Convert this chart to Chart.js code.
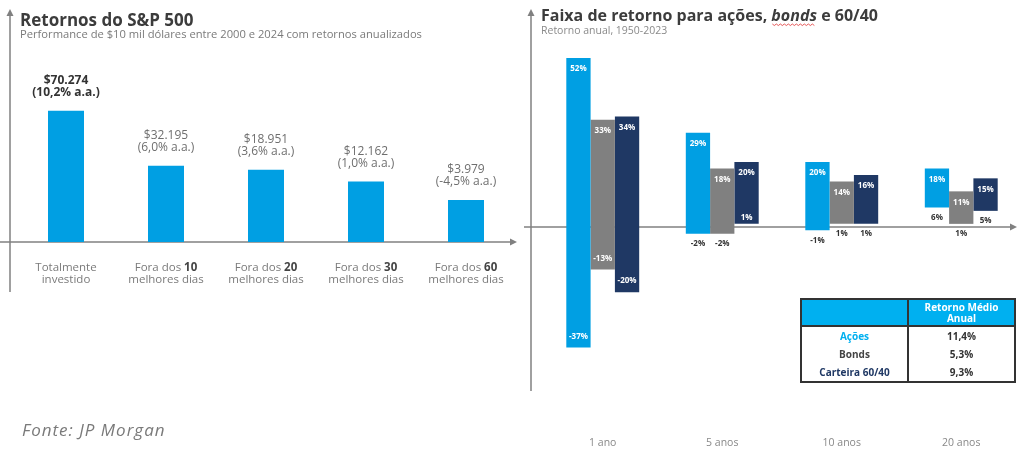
<!DOCTYPE html>
<html>
<head>
<meta charset="utf-8">
<script src="https://cdn.jsdelivr.net/npm/chart.js"></script>
<style>
  body { margin: 0; background: #fff; width: 1023px; height: 454px; overflow: hidden; position: relative; }
  canvas { position: absolute; top: 0; }
  #left { left: 0; }
  #right { left: 520px; }
  #tbl { position: absolute; left: 800px; top: 298px; width: 216px; border-collapse: collapse;
         font-family: "Open Sans", sans-serif; font-weight: 700; font-size: 10px; border: 2px solid #333; }
  #tbl td { width: 50%; text-align: center; padding: 0; line-height: 11px; }
  #tbl tr.head td { background: #00b0f0; color: #fff; height: 25px; border-bottom: 2px solid #333; }
  #tbl tr.body td { height: 18px; }
  #tbl td:first-child { border-right: 2px solid #333; }
</style>
</head>
<body>
<canvas id="left" width="520" height="454"></canvas>
<canvas id="right" width="503" height="454"></canvas>
<table id="tbl"></table>
<script>
const FONT = '"Open Sans", sans-serif'

// left chart: S&P 500 returns
const leftCategories = [['Totalmente', 'investido'], ['Fora dos 10', 'melhores dias'], ['Fora dos 20', 'melhores dias'], ['Fora dos 30', 'melhores dias'], ['Fora dos 60', 'melhores dias']]
const leftBarHeights = [100, 58, 55, 46, 32]
const leftAmounts = ['$70.274', '$32.195', '$18.951', '$12.162', '$3.979']
const leftRates = ['(10,2% a.a.)', '(6,0% a.a.)', '(3,6% a.a.)', '(1,0% a.a.)', '(-4,5% a.a.)']

// right chart: return ranges
const periods = ['1 ano', '5 anos', '10 anos', '20 anos']
const acoesMax = [52, 29, 20, 18]
const acoesMin = [-37, -2, -1, 6]
const bondsMax = [33, 18, 14, 11]
const bondsMin = [-13, -2, 1, 1]
const carteiraMax = [34, 20, 16, 15]
const carteiraMin = [-20, 1, 1, 5]

// table
const tableHeader = ['Retorno Médio', 'Anual']
const tableRows = ['Ações', 'Bonds', 'Carteira 60/40']
const tableValues = ['11,4%', '5,3%', '9,3%']

const BLUE = '#009fe3'
const GRAY = '#808080'
const NAVY = '#1f3864'
const AXIS = '#808080'

function arrowLine(ctx, x1, y1, x2, y2) {
  ctx.save()
  ctx.strokeStyle = AXIS
  ctx.fillStyle = AXIS
  ctx.lineWidth = 1.5
  ctx.beginPath()
  ctx.moveTo(x1, y1)
  ctx.lineTo(x2, y2)
  ctx.stroke()
  const a = Math.atan2(y2 - y1, x2 - x1)
  ctx.beginPath()
  ctx.moveTo(x2 + Math.cos(a) * 3, y2 + Math.sin(a) * 3)
  ctx.lineTo(x2 - Math.cos(a) * 4 - Math.sin(a) * 3.5, y2 - Math.sin(a) * 4 + Math.cos(a) * 3.5)
  ctx.lineTo(x2 - Math.cos(a) * 4 + Math.sin(a) * 3.5, y2 - Math.sin(a) * 4 - Math.cos(a) * 3.5)
  ctx.closePath()
  ctx.fill()
  ctx.restore()
}

const leftDecor = {
  id: 'leftDecor',
  beforeDatasetsDraw(chart) {
    const { ctx, chartArea, scales } = chart
    const base = scales.y.getPixelForValue(0)
    arrowLine(ctx, chartArea.left - 6, base + 50, chartArea.left - 6, 12)
    arrowLine(ctx, 0, base, chartArea.right - 2, base)
  },
  afterDatasetsDraw(chart) {
    const { ctx, scales } = chart
    const base = scales.y.getPixelForValue(0)
    ctx.save()
    ctx.textAlign = 'left'
    ctx.textBaseline = 'alphabetic'
    ctx.fillStyle = '#3c3c3c'
    ctx.font = `bold 17px ${FONT}`
    ctx.fillText('Retornos do S&P 500', 20, 26)
    ctx.fillStyle = '#7a7a7a'
    ctx.font = `11.2px ${FONT}`
    ctx.fillText('Performance de $10 mil dólares entre 2000 e 2024 com retornos anualizados', 20, 38)
    ctx.font = `italic 17px ${FONT}`
    ctx.letterSpacing = '1px'
    ctx.fillText('Fonte: JP Morgan', 22, 436)
    ctx.letterSpacing = '0px'

    ctx.textAlign = 'center'
    leftBarHeights.forEach((v, i) => {
      const x = scales.x.getPixelForValue(i)
      const top = scales.y.getPixelForValue(v)
      ctx.fillStyle = i === 0 ? '#333' : '#6e6e6e'
      ctx.font = `${i === 0 ? 'bold ' : ''}12px ${FONT}`
      ctx.fillText(leftAmounts[i], x, top - 27)
      ctx.fillText(leftRates[i], x, top - 15)

      leftCategories[i].forEach((line, k) => {
        const parts = line.split(/(\d+)/).filter(s => s)
        const fonts = parts.map(p => /\d/.test(p) ? `bold 11.5px ${FONT}` : `11.5px ${FONT}`)
        let w = 0
        parts.forEach((p, j) => { ctx.font = fonts[j]; w += ctx.measureText(p).width })
        let cx = x - w / 2
        ctx.textAlign = 'left'
        parts.forEach((p, j) => {
          ctx.font = fonts[j]
          ctx.fillStyle = /\d/.test(p) ? '#444' : '#7a7a7a'
          ctx.fillText(p, cx, base + 29 + k * 12)
          cx += ctx.measureText(p).width
        })
        ctx.textAlign = 'center'
      })
    })
    ctx.restore()
  }
}

new Chart(document.getElementById('left'), {
  type: 'bar',
  data: {
    labels: leftCategories.map(c => c.join(' ')),
    datasets: [{ data: leftBarHeights, backgroundColor: BLUE, barPercentage: 0.36, categoryPercentage: 1 }]
  },
  options: {
    responsive: false,
    animation: false,
    layout: { padding: { left: 16, right: 4, top: 45, bottom: 212 } },
    plugins: { legend: { display: false }, tooltip: { enabled: false } },
    scales: {
      x: { display: false },
      y: { display: false, min: 0, max: 150 }
    }
  },
  plugins: [leftDecor]
})

const insideLow = { '2-1': true }

const rightDecor = {
  id: 'rightDecor',
  beforeDatasetsDraw(chart) {
    const { ctx, chartArea, scales } = chart
    const zero = scales.y.getPixelForValue(0)
    arrowLine(ctx, chartArea.left - 12, zero + 164, chartArea.left - 12, 12)
    arrowLine(ctx, chartArea.left - 19, zero, chartArea.right - 7, zero)
  },
  afterDatasetsDraw(chart) {
    const { ctx, scales } = chart
    ctx.save()
    ctx.textBaseline = 'alphabetic'
    ctx.textAlign = 'left'
    ctx.fillStyle = '#3c3c3c'
    let x = 21
    const seg = [['Faixa de retorno para ações, ', 'bold'], ['bonds', 'italic bold'], [' e 60/40', 'bold']]
    seg.forEach(([t, f]) => {
      ctx.font = `${f} 16px ${FONT}`
      const w = ctx.measureText(t).width
      ctx.fillText(t, x, 21)
      if (f.includes('italic')) {
        ctx.strokeStyle = '#e03030'
        ctx.lineWidth = 0.8
        ctx.beginPath()
        for (let px = x + 1; px <= x + w - 1; px += 2) {
          const py = 24 + ((px - x) % 4 < 2 ? 0 : 1.5)
          px === x + 1 ? ctx.moveTo(px, py) : ctx.lineTo(px, py)
        }
        ctx.stroke()
      }
      x += w
    })
    ctx.fillStyle = '#8a8a8a'
    ctx.font = `10.5px ${FONT}`
    ctx.fillText('Retorno anual, 1950-2023', 21, 34)

    ctx.textAlign = 'center'
    ctx.font = `10.5px ${FONT}`
    ctx.fillStyle = '#888'
    periods.forEach((p, i) => ctx.fillText(p, scales.x.getPixelForValue(i), 446))

    ctx.textBaseline = 'middle'
    ctx.font = `bold 8px ${FONT}`
    chart.data.datasets.forEach((ds, d) => {
      chart.getDatasetMeta(d).data.forEach((bar, i) => {
        const [lo, hi] = ds.data[i]
        const top = scales.y.getPixelForValue(hi)
        const bottom = scales.y.getPixelForValue(lo)
        ctx.fillStyle = '#fff'
        ctx.fillText(hi + '%', bar.x, top + 11)
        if (lo <= -10 || insideLow[d + '-' + i]) {
          ctx.fillStyle = '#fff'
          ctx.fillText(lo + '%', bar.x, bottom - (lo < 0 ? 11 : 6))
        } else {
          ctx.fillStyle = '#333'
          ctx.fillText(lo + '%', bar.x, bottom + 10)
        }
      })
    })
    ctx.restore()
  }
}

const range = (lo, hi) => lo.map((v, i) => [v, hi[i]])

new Chart(document.getElementById('right'), {
  type: 'bar',
  data: {
    labels: periods,
    datasets: [
      { label: 'Ações', data: range(acoesMin, acoesMax), backgroundColor: BLUE },
      { label: 'Bonds', data: range(bondsMin, bondsMax), backgroundColor: GRAY },
      { label: 'Carteira 60/40', data: range(carteiraMin, carteiraMax), backgroundColor: NAVY }
    ]
  },
  options: {
    responsive: false,
    animation: false,
    datasets: { bar: { barPercentage: 1, categoryPercentage: 0.61, borderSkipped: false } },
    layout: { padding: { left: 23, right: 2, top: 32, bottom: 22 } },
    plugins: { legend: { display: false }, tooltip: { enabled: false } },
    scales: {
      x: { display: false },
      y: { display: false, min: -63, max: 60 }
    }
  },
  plugins: [rightDecor]
})

// table
const tbl = document.getElementById('tbl')
const rowColors = ['#00b0f0', '#444', NAVY]
let html = `<tr class="head"><td></td><td>${tableHeader.join('<br>')}</td></tr>`
tableRows.forEach((r, i) => {
  html += `<tr class="body"><td style="color:${rowColors[i]}">${r}</td><td style="color:#333">${tableValues[i]}</td></tr>`
})
tbl.innerHTML = html
</script>
</body>
</html>
